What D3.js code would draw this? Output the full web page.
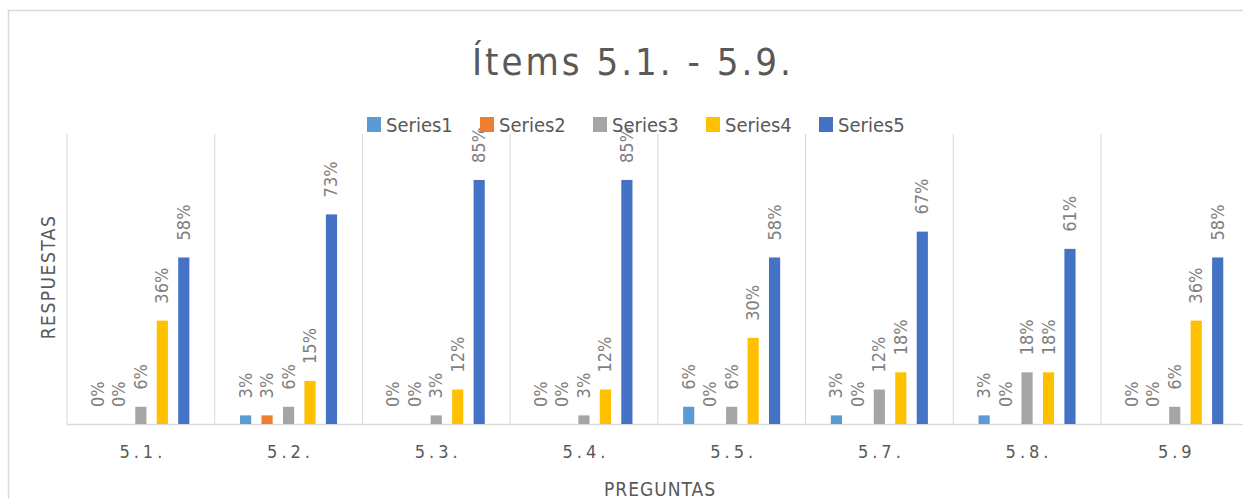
<!DOCTYPE html>
<html>
<head>
<meta charset="utf-8">
<script src="https://cdn.jsdelivr.net/npm/d3@7"></script>
<style>
  body { margin: 0; background: #fff; }
  svg { display: block; font-family: "Liberation Sans Narrow", "DejaVu Sans Condensed", sans-serif; }
</style>
</head>
<body>
<svg id="chart"></svg>
<script>
const categories = ['5.1.', '5.2.', '5.3.', '5.4.', '5.5.', '5.7.', '5.8.', '5.9'];
const seriesNames = ['Series1', 'Series2', 'Series3', 'Series4', 'Series5'];
const series1 = [0, 3, 0, 0, 6, 3, 3, 0];
const series2 = [0, 3, 0, 0, 0, 0, 0, 0];
const series3 = [6, 6, 3, 3, 6, 12, 18, 6];
const series4 = [36, 15, 12, 12, 30, 18, 18, 36];
const series5 = [58, 73, 85, 85, 58, 67, 61, 58];
const colors = ['#5b9bd5', '#ed7d31', '#a5a5a5', '#ffc000', '#4472c4'];

const allSeries = [series1, series2, series3, series4, series5];

const width = 1243, height = 499;
const svg = d3.select('#chart').attr('width', width).attr('height', height);

// chart frame (cut off on the right/bottom like the source image)
svg.append('path')
  .attr('d', `M8.5,${height} V10.5 H${width}`)
  .attr('fill', 'none')
  .attr('stroke', '#d9d9d9')
  .attr('stroke-width', 1.5);

const left = 67, step = 147.7, base = 424;

const x0 = d3.scaleBand()
  .domain(categories)
  .range([left, left + step * categories.length])
  .paddingInner(0.343)
  .paddingOuter(0.1715);

const x1 = d3.scaleBand()
  .domain(seriesNames)
  .range([0, x0.bandwidth()])
  .paddingInner(0.48)
  .paddingOuter(0);

const y = d3.scaleLinear().domain([0, 101]).range([base, 134]);

// vertical separators between categories
const bounds = categories.map((c, i) => left + step * i).concat([left + step * categories.length]);
svg.append('g').selectAll('line')
  .data(bounds)
  .join('line')
  .attr('x1', d => d).attr('x2', d => d)
  .attr('y1', y(101)).attr('y2', base)
  .attr('stroke', '#d9d9d9').attr('stroke-width', 1);

// baseline
svg.append('line')
  .attr('x1', left).attr('x2', width)
  .attr('y1', base + 0.5).attr('y2', base + 0.5)
  .attr('stroke', '#d9d9d9').attr('stroke-width', 1.5);

const rows = [];
categories.forEach((c, i) => {
  seriesNames.forEach((s, j) => rows.push({ cat: c, series: s, idx: j, value: allSeries[j][i] }));
});

svg.append('g').selectAll('rect')
  .data(rows)
  .join('rect')
  .attr('x', d => x0(d.cat) + x1(d.series))
  .attr('y', d => y(d.value))
  .attr('width', x1.bandwidth())
  .attr('height', d => base - y(d.value))
  .attr('fill', d => colors[d.idx]);

// rotated value labels
svg.append('g').selectAll('text')
  .data(rows)
  .join('text')
  .attr('transform', d => `translate(${x0(d.cat) + x1(d.series) + x1.bandwidth() / 2 + 6},${y(d.value) - 17}) rotate(-90)`)
  .attr('font-size', 18)
  .attr('fill', '#7f7f7f')
  .text(d => d.value + '%');

// category axis labels
svg.append('g').selectAll('text')
  .data(categories)
  .join('text')
  .attr('x', d => x0(d) + x0.bandwidth() / 2 + 2)
  .attr('y', 458)
  .attr('text-anchor', 'middle')
  .attr('font-size', 18)
  .attr('letter-spacing', 4)
  .attr('fill', '#595959')
  .text(d => d);

// title
svg.append('text')
  .attr('x', 633)
  .attr('y', 75)
  .attr('text-anchor', 'middle')
  .attr('font-size', 38)
  .attr('letter-spacing', 3)
  .attr('fill', '#595959')
  .text('Ítems 5.1. - 5.9.');

// axis titles
svg.append('text')
  .attr('transform', 'translate(55,277) rotate(-90)')
  .attr('text-anchor', 'middle')
  .attr('font-size', 19)
  .attr('letter-spacing', 1.5)
  .attr('fill', '#595959')
  .text('RESPUESTAS');

svg.append('text')
  .attr('x', 660)
  .attr('y', 496)
  .attr('text-anchor', 'middle')
  .attr('font-size', 19)
  .attr('letter-spacing', 1)
  .attr('fill', '#595959')
  .text('PREGUNTAS');

// legend
const legendX = d3.scalePoint().domain(seriesNames).range([367, 819]);
const lg = svg.append('g').selectAll('g')
  .data(seriesNames)
  .join('g')
  .attr('transform', d => `translate(${legendX(d)},117)`);
lg.append('rect')
  .attr('width', 14).attr('height', 15)
  .attr('fill', (d, i) => colors[i]);
lg.append('text')
  .attr('x', 19).attr('y', 15)
  .attr('font-size', 20)
  .attr('fill', '#595959')
  .text(d => d);
</script>
</body>
</html>
